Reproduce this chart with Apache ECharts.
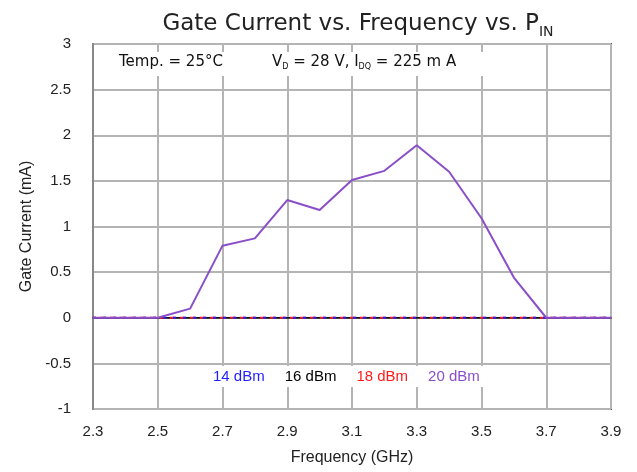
<!DOCTYPE html>
<html>
<head>
<meta charset="utf-8">
<script src="https://cdn.jsdelivr.net/npm/echarts@6/dist/echarts.min.js"></script>
<style>
  html, body { margin: 0; padding: 0; background: #fff; }
  #chart { width: 637px; height: 472px; }
</style>
</head>
<body>
<div id="chart"></div>
<script>
// Frequency points (GHz)
const freqs = [2.3, 2.4, 2.5, 2.6, 2.7, 2.8, 2.9, 3.0, 3.1, 3.2, 3.3, 3.4, 3.5, 3.6, 3.7, 3.8, 3.9];
// Gate current (mA) per input power
const gate14 = [0, 0, 0, 0, 0, 0, 0, 0, 0, 0, 0, 0, 0, 0, 0, 0, 0];
const gate16 = [0, 0, 0, 0, 0, 0, 0, 0, 0, 0, 0, 0, 0, 0, 0, 0, 0];
const gate18 = [0, 0, 0, 0, 0, 0, 0, 0, 0, 0, 0, 0, 0, 0, 0, 0, 0];
const gate20 = [0, 0, 0, 0.1, 0.79, 0.87, 1.29, 1.18, 1.51, 1.61, 1.89, 1.6, 1.09, 0.44, 0, 0, 0];
const seriesNames = ['14 dBm', '16 dBm', '18 dBm', '20 dBm'];
const seriesColors = ['#1f1fff', '#000000', '#ff1a1a', '#8a4fc8'];

const FONT = 'Liberation Sans, Arial, sans-serif';
const WIDE = 'DejaVu Sans, sans-serif';
const chart = echarts.init(document.getElementById('chart'));

function pairs(vals) { return freqs.map((f, i) => [f, vals[i]]); }

const allData = [gate14, gate16, gate18, gate20];
// per-series stroke: overlapping zero traces stay distinguishable
const strokes = [
  { width: 2, type: [3, 7], dashOffset: 0 },
  { width: 1.2, type: 'solid' },
  { width: 2, type: [6, 4], dashOffset: 3 },
  { width: 2, type: 'solid' }
];
const zOrder = [7, 5, 6, 9];

chart.setOption({
  animation: false,
  backgroundColor: '#fff',
  textStyle: { fontFamily: FONT },
  title: {
    text: 'Gate Current vs. Frequency vs. P{s|IN}',
    left: 353, top: 5, textAlign: 'center',
    textStyle: {
      fontFamily: WIDE, fontSize: 23, fontWeight: 'normal', color: '#222',
      rich: { s: { fontFamily: WIDE, fontSize: 14, color: '#222', padding: [15, 0, 0, 0] } }
    }
  },
  grid: {
    left: 93, right: 26, top: 44, bottom: 63,
    show: true, borderColor: '#555', borderWidth: 2, backgroundColor: '#fff'
  },
  legend: {
    data: seriesNames.map((n, i) => ({ name: n, icon: 'none', textStyle: { color: seriesColors[i] } })),
    left: 204, top: 366,
    itemWidth: 0, itemHeight: 0, itemGap: 15,
    backgroundColor: '#fff',
    padding: [3, 6, 3, 4],
    textStyle: { fontFamily: FONT, fontSize: 15 },
    selectedMode: false
  },
  xAxis: {
    type: 'value', min: 2.3, max: 3.9, interval: 0.2,
    name: 'Frequency (GHz)', nameLocation: 'middle', nameGap: 41,
    nameTextStyle: { fontFamily: FONT, fontSize: 16, color: '#222' },
    axisLine: { show: true, lineStyle: { color: '#555', width: 2 } },
    axisTick: { show: false },
    axisLabel: {
      fontFamily: FONT, fontSize: 15, color: '#222', margin: 15,
      formatter: v => v.toFixed(1)
    },
    splitLine: { show: true, lineStyle: { color: '#b4b4b4', width: 2 } }
  },
  yAxis: {
    type: 'value', min: -1, max: 3, interval: 0.5,
    name: 'Gate Current (mA)', nameLocation: 'middle', nameGap: 57,
    nameTextStyle: { fontFamily: FONT, fontSize: 16, color: '#222' },
    axisLine: { show: true, lineStyle: { color: '#888', width: 2 } },
    axisTick: { show: false },
    axisLabel: { fontFamily: FONT, fontSize: 15, color: '#222', margin: 22 },
    splitLine: { show: true, lineStyle: { color: '#b4b4b4', width: 2 } }
  },
  graphic: [
    {
      type: 'rect', left: 110, top: 52, z: 5,
      shape: { width: 385, height: 24 },
      style: { fill: '#fff' }
    },
    {
      type: 'text', left: 119, top: 55, z: 6,
      style: { text: 'Temp. = 25°C', font: '15px ' + WIDE, fill: '#111' }
    },
    {
      type: 'text', left: 272, top: 55, z: 6,
      style: {
        text: 'V{s|D} = 28 V, I{s|DQ} = 225 m A',
        font: '15px ' + WIDE, fill: '#111',
        rich: { s: { fontSize: 8, fontFamily: WIDE, fill: '#111', padding: [9, 0, 0, 0] } }
      }
    }
  ],
  series: allData.map((vals, i) => ({
    name: seriesNames[i],
    type: 'line',
    data: pairs(vals),
    showSymbol: false,
    color: seriesColors[i],
    lineStyle: Object.assign({ color: seriesColors[i] }, strokes[i]),
    z: zOrder[i]
  }))
});
</script>
</body>
</html>
